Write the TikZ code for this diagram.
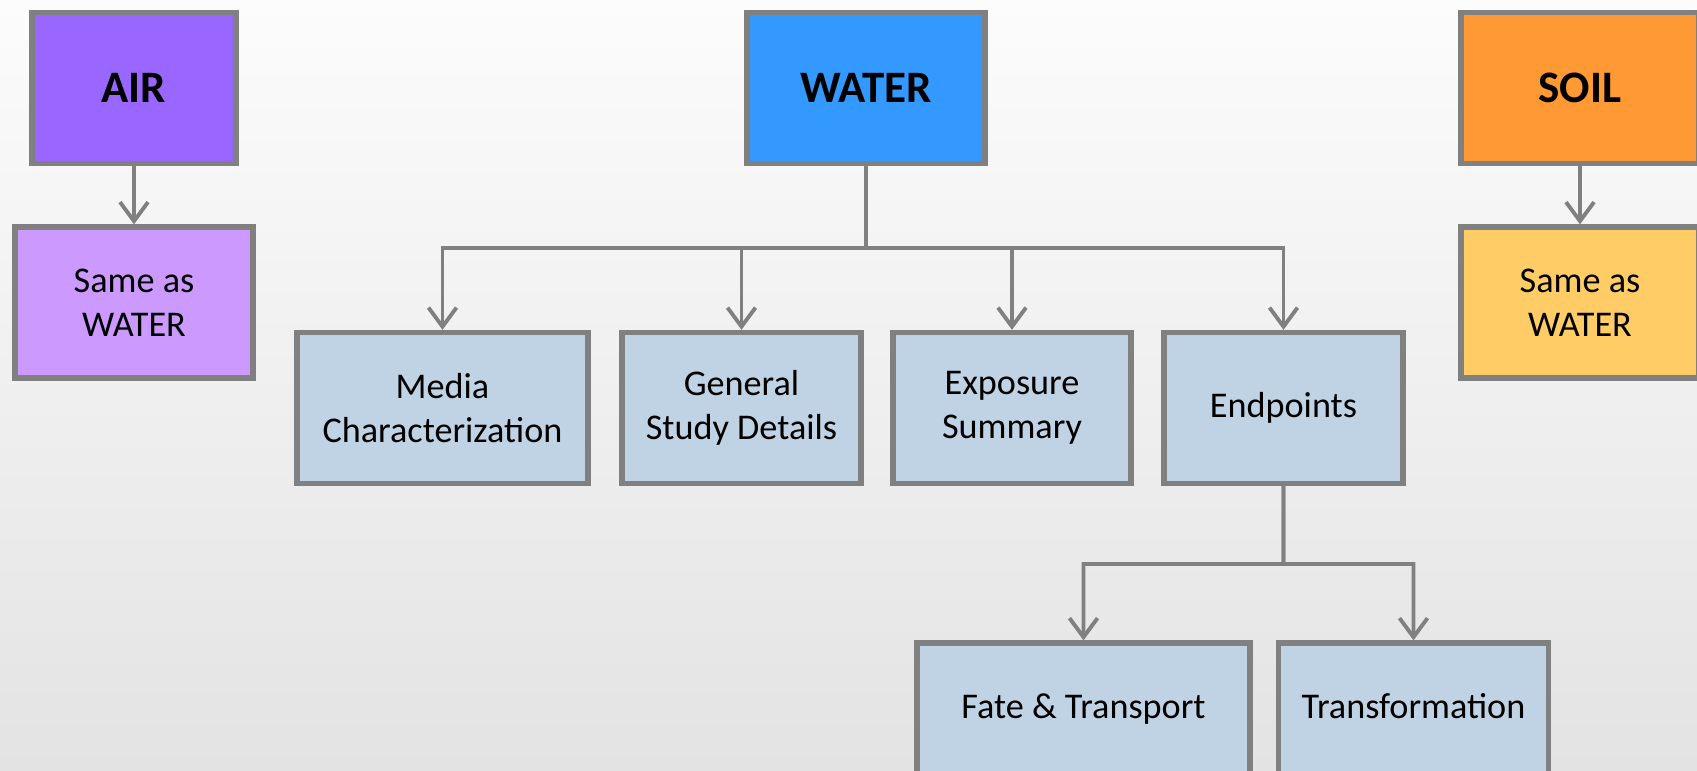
\documentclass[tikz,border=0pt]{standalone}
\usepackage{fontspec}
\setmainfont{Carlito}
\usetikzlibrary{positioning}
\usetikzlibrary{arrows.meta}
\definecolor{edgegray}{HTML}{808080}
\definecolor{airdark}{HTML}{9966FF}
\definecolor{airlight}{HTML}{CC99FF}
\definecolor{waterblue}{HTML}{3399FF}
\definecolor{soildark}{HTML}{FF9933}
\definecolor{soillight}{HTML}{FFCC66}
\definecolor{leafblue}{HTML}{C0D3E5}
\definecolor{bgtop}{HTML}{FCFCFC}
\definecolor{bgbottom}{HTML}{E3E3E3}
\tikzset{>={Straight Barb[length=1.9mm,width=2.8mm]}}
\tikzset{box/.style={draw=edgegray, line width=1.5pt, minimum height=15.1mm, inner sep=2pt, align=center, font=\fontsize{10.3}{12.6}\selectfont}}
\tikzset{head/.style={box, minimum width=#1, font=\fontsize{12.8}{15}\selectfont\bfseries}}
\tikzset{leaf/.style={box, fill=leafblue, minimum width=#1}}
\tikzset{oneline/.style={text height=1.5ex, text depth=.4ex}}
\tikzset{link/.style={draw=edgegray, line width=1.1pt}}

\begin{document}
\begin{tikzpicture}
\clip (0,0) rectangle (16.97,-7.70);
\fill[top color=bgtop, bottom color=bgbottom] (0,0) rectangle (16.97,-7.70);

\begin{scope}[on grid]

% media on top
\node[head=20.4mm, fill=airdark] (air) at (1.34,-0.88) {AIR};
\node[head=23.8mm, fill=waterblue] (water) at (8.66,-0.88) {WATER};
\node[head=23.8mm, fill=soildark] (soil) at (15.80,-0.88) {SOIL};

\node[box, fill=airlight, minimum width=23.8mm] (airsame) [below = 2.145 of air] {Same as\\WATER};
\node[box, fill=soillight, minimum width=23.8mm] (soilsame) [below = 2.145 of soil] {Same as\\WATER};

% water branches
\node[leaf=29.1mm] (media) at (4.425,-4.08) {Media\\Characterization};
\node[leaf=23.9mm] (general) [right = 2.99 of media] {General\\Study Details};
\node[leaf=23.8mm] (exposure) [right = 2.705 of general] {Exposure\\Summary};
\node[leaf=23.9mm, oneline] (endpoints) [right = 2.715 of exposure] {Endpoints};

\node[leaf=33.3mm, oneline, minimum height=13.2mm] (fate) [below left = 3.01 and 2.0 of endpoints] {Fate \& Transport};
\node[leaf=27.0mm, oneline, minimum height=13.2mm] (transf) [right = 3.30 of fate] {Transformation};

\coordinate (wbus) at (8.66,-2.48);
\coordinate (ebus) at (12.835,-5.64);

\draw[link, ->] (air) -- (airsame);
\draw[link, ->] (soil) -- (soilsame);

\foreach \n in {media,general,exposure,endpoints}
  \draw[link, ->] (water.south) -- (wbus) -| (\n.north);

\foreach \n in {fate,transf}
  \draw[link, ->] (endpoints.south) -- (ebus) -| (\n.north);
\end{scope}
\end{tikzpicture}
\end{document}
